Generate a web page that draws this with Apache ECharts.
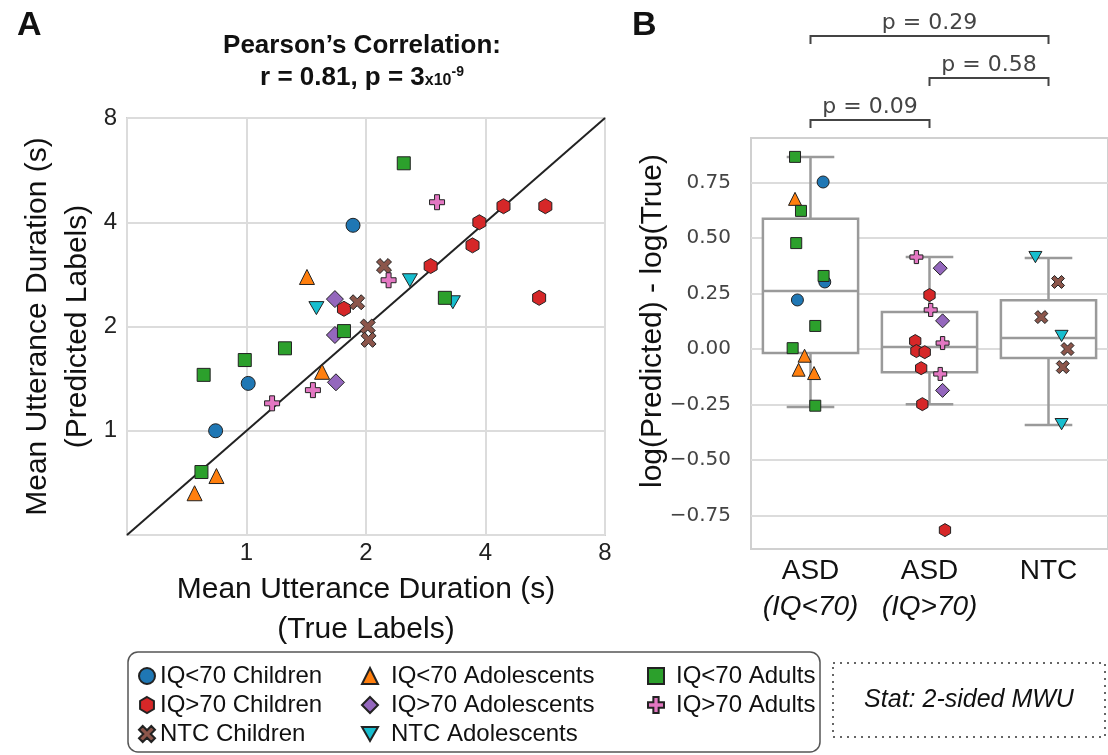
<!DOCTYPE html>
<html>
<head>
<meta charset="utf-8">
<script src="https://cdn.jsdelivr.net/npm/echarts@6/dist/echarts.min.js"></script>
<style>
  html, body { margin: 0; padding: 0; background: #fff; }
  #chart { width: 1108px; height: 755px; }
</style>
</head>
<body>
<div id="chart"></div>
<script>
// 组名（图例顺序）
const groupNames = [
  'IQ<70 Children', 'IQ>70 Children', 'NTC Children',
  'IQ<70 Adolescents', 'IQ>70 Adolescents', 'NTC Adolescents',
  'IQ<70 Adults', 'IQ>70 Adults'
]

// A: [true, predicted] 平均语句时长 (s)
const trueVsPredIQ70Children = [[1.855, 3.92], [1.01, 1.37], [0.836, 1.0]]
const trueVsPredIQ70PlusChildren = [[4.44, 4.45], [5.66, 4.45], [3.86, 4.0], [3.71, 3.43], [2.91, 2.99], [5.46, 2.42], [1.76, 2.25]]
const trueVsPredNTCChildren = [[2.22, 2.99], [1.90, 2.35], [2.02, 2.0], [2.03, 1.83]]
const trueVsPredIQ70Adolescents = [[1.42, 2.78], [1.55, 1.48], [0.84, 0.74], [0.74, 0.66]]
const trueVsPredIQ70PlusAdolescents = [[1.67, 2.4], [1.67, 1.89], [1.68, 1.38]]
const trueVsPredNTCAdolescents = [[1.5, 2.26], [2.58, 2.72], [3.31, 2.35]]
const trueVsPredIQ70Adults = [[2.49, 5.92], [3.16, 2.42], [1.76, 1.94], [1.25, 1.73], [0.99, 1.6], [0.78, 1.45], [0.77, 0.76]]
const trueVsPredIQ70PlusAdults = [[3.02, 4.57], [2.28, 2.72], [1.47, 1.31], [1.16, 1.2]]
const identityLine = [[0.5, 0.5], [8, 8]]

// B: log(Predicted) - log(True)，以及 strip plot 的抖动
const diffIQ70Children = [0.752, 0.302, 0.221]
const jitterIQ70Children = [0.106, 0.12, -0.11]
const diffIQ70Adolescents = [0.676, -0.03, -0.093, -0.108]
const jitterIQ70Adolescents = [-0.13, -0.05, -0.10, 0.03]
const diffIQ70Adults = [0.865, 0.622, 0.477, 0.329, 0.104, 0.004, -0.255]
const jitterIQ70Adults = [-0.13, -0.08, -0.12, 0.11, 0.04, -0.15, 0.04]
const diffIQ70PlusChildren = [0.243, 0.036, -0.009, -0.014, -0.086, -0.248, -0.815]
const jitterIQ70PlusChildren = [0.0, -0.12, -0.11, -0.04, -0.07, -0.06, 0.13]
const diffIQ70PlusAdolescents = [0.364, 0.127, -0.186]
const jitterIQ70PlusAdolescents = [0.09, 0.11, 0.11]
const diffIQ70PlusAdults = [0.414, 0.176, 0.027, -0.112]
const jitterIQ70PlusAdults = [-0.11, 0.01, 0.11, 0.09]
const diffNTCChildren = [0.302, 0.144, 0.0, -0.081]
const jitterNTCChildren = [0.08, -0.06, 0.16, 0.12]
const diffNTCAdolescents = [0.414, 0.059, -0.338]
const jitterNTCAdolescents = [-0.11, 0.11, 0.11]

const boxCategories = ['ASD\n(IQ<70)', 'ASD\n(IQ>70)', 'NTC']
// [min whisker, Q1, median, Q3, max whisker]
const boxStats = [
  [-0.261, -0.018, 0.261, 0.586, 0.865],
  [-0.248, -0.104, 0.009, 0.167, 0.414],
  [-0.342, -0.04, 0.05, 0.22, 0.41]
]
const yTicksB = [-0.75, -0.5, -0.25, 0, 0.25, 0.5, 0.75]
const pvalPairs = [[0, 2], [1, 2], [0, 1]]
const pvalLabels = ['p = 0.29', 'p = 0.58', 'p = 0.09']

// 标记形状
const HEX = 'path://M0,-10L8.66,-5L8.66,5L0,10L-8.66,5L-8.66,-5Z'
const TRI_DOWN = 'path://M-10,-8.66L10,-8.66L0,8.66Z'
const PLUS = 'path://M-3.3,-10H3.3V-3.3H10V3.3H3.3V10H-3.3V3.3H-10V-3.3H-3.3Z'
const CROSS = 'path://M4.95,-9.19L9.19,-4.95L4.24,0L9.19,4.95L4.95,9.19L0,4.24L-4.95,9.19L-9.19,4.95L-4.24,0L-9.19,-4.95L-4.95,-9.19L0,-4.24Z'

const groups = [
  { name: 'IQ<70 Children', color: '#1f77b4', symbol: 'circle', size: 14, a: trueVsPredIQ70Children, cat: 0, diff: diffIQ70Children, jitter: jitterIQ70Children },
  { name: 'IQ>70 Children', color: '#d62728', symbol: HEX, size: 15, a: trueVsPredIQ70PlusChildren, cat: 1, diff: diffIQ70PlusChildren, jitter: jitterIQ70PlusChildren },
  { name: 'NTC Children', color: '#8c564b', symbol: CROSS, size: 15, a: trueVsPredNTCChildren, cat: 2, diff: diffNTCChildren, jitter: jitterNTCChildren },
  { name: 'IQ<70 Adolescents', color: '#ff7f0e', symbol: 'triangle', size: 15, a: trueVsPredIQ70Adolescents, cat: 0, diff: diffIQ70Adolescents, jitter: jitterIQ70Adolescents },
  { name: 'IQ>70 Adolescents', color: '#9467bd', symbol: 'diamond', size: 17, a: trueVsPredIQ70PlusAdolescents, cat: 1, diff: diffIQ70PlusAdolescents, jitter: jitterIQ70PlusAdolescents },
  { name: 'NTC Adolescents', color: '#17becf', symbol: TRI_DOWN, size: 15, a: trueVsPredNTCAdolescents, cat: 2, diff: diffNTCAdolescents, jitter: jitterNTCAdolescents },
  { name: 'IQ<70 Adults', color: '#2ca02c', symbol: 'rect', size: 13, a: trueVsPredIQ70Adults, cat: 0, diff: diffIQ70Adults, jitter: jitterIQ70Adults },
  { name: 'IQ>70 Adults', color: '#e377c2', symbol: PLUS, size: 15, a: trueVsPredIQ70PlusAdults, cat: 1, diff: diffIQ70PlusAdults, jitter: jitterIQ70PlusAdults }
]

const FONT = 'Liberation Sans, Arial, sans-serif'
const MPL_FONT = 'DejaVu Sans, sans-serif'
const GRID_LINE = { color: '#dcdcdc', width: 2 }

const chart = echarts.init(document.getElementById('chart'), null, { renderer: 'canvas' })

function scatterSeries() {
  const list = []
  groups.forEach(g => {
    const itemStyle = { color: g.color, borderColor: '#222', borderWidth: 1, opacity: 1 }
    list.push({
      name: g.name,
      type: 'scatter',
      xAxisIndex: 0,
      yAxisIndex: 0,
      symbol: g.symbol,
      symbolSize: g.size,
      symbolKeepAspect: true,
      itemStyle: itemStyle,
      z: 4,
      data: g.a
    })
    list.push({
      name: g.name,
      type: 'scatter',
      xAxisIndex: 2,
      yAxisIndex: 1,
      symbol: g.symbol,
      symbolSize: Math.round(g.size * 0.85),
      symbolKeepAspect: true,
      itemStyle: itemStyle,
      z: 4,
      data: g.diff.map((v, i) => [g.cat + g.jitter[i], v])
    })
  })
  return list
}

function renderBox(params, api) {
  const x = api.value(0)
  const lo = api.value(1), q1 = api.value(2), med = api.value(3), q3 = api.value(4), hi = api.value(5)
  const p = (xx, yy) => api.coord([xx, yy])
  const stroke = { stroke: '#9a9a9a', lineWidth: 2.5 }
  const line = (a, b) => ({ type: 'line', shape: { x1: a[0], y1: a[1], x2: b[0], y2: b[1] }, style: stroke })
  const tl = p(x - 0.4, q3), br = p(x + 0.4, q1)
  return {
    type: 'group',
    children: [
      line(p(x, q3), p(x, hi)),
      line(p(x, q1), p(x, lo)),
      line(p(x - 0.2, hi), p(x + 0.2, hi)),
      line(p(x - 0.2, lo), p(x + 0.2, lo)),
      { type: 'rect', shape: { x: tl[0], y: tl[1], width: br[0] - tl[0], height: br[1] - tl[1] }, style: { fill: '#fff', stroke: '#9a9a9a', lineWidth: 2.5 } },
      line(p(x - 0.4, med), p(x + 0.4, med))
    ]
  }
}

function legendCol(names, left, textGap) {
  return {
    orient: 'vertical',
    left: left,
    top: 664,
    padding: 0,
    itemGap: 5,
    itemWidth: 16,
    itemHeight: 16,
    selectedMode: false,
    data: names,
    textStyle: { fontFamily: FONT, fontSize: 24, color: '#111', padding: [0, 0, 0, textGap] }
  }
}

const option = {
  animation: false,
  backgroundColor: '#fff',
  title: [
    { text: 'A', left: 12, top: 4, textStyle: { fontFamily: FONT, fontSize: 34, fontWeight: 'bold', color: '#111' } },
    { text: 'B', left: 627, top: 4, textStyle: { fontFamily: FONT, fontSize: 34, fontWeight: 'bold', color: '#111' } }
  ],
  legend: [
    legendCol(['IQ<70 Children', 'IQ>70 Children', 'NTC Children'], 138, 0),
    legendCol(['IQ<70 Adolescents', 'IQ>70 Adolescents', 'NTC Adolescents'], 361, 8),
    legendCol(['IQ<70 Adults', 'IQ>70 Adults'], 647, 7)
  ],
  grid: [
    { left: 127, top: 118, width: 478, height: 417, show: true, borderColor: '#d0d0d0', borderWidth: 2 },
    { left: 751, top: 138, width: 367, height: 411, show: true, borderColor: '#d0d0d0', borderWidth: 2 }
  ],
  xAxis: [
    {
      type: 'log', logBase: 2, min: 0.5, max: 8, gridIndex: 0,
      axisLine: { show: false }, axisTick: { show: false },
      splitLine: { show: true, lineStyle: GRID_LINE },
      axisLabel: { formatter: v => (v < 1 ? '' : String(Math.round(v))), fontFamily: FONT, fontSize: 24, color: '#222', margin: 6 },
      name: 'Mean Utterance Duration (s)\n(True Labels)',
      nameLocation: 'middle', nameGap: 29,
      nameTextStyle: { fontFamily: FONT, fontSize: 30, lineHeight: 40, color: '#111' }
    },
    {
      type: 'category', gridIndex: 1, data: boxCategories,
      axisLine: { show: false }, axisTick: { show: false }, splitLine: { show: false },
      axisLabel: {
        margin: 4,
        formatter: v => {
          const parts = v.split('\n')
          return parts.length > 1 ? '{n|' + parts[0] + '}\n{i|' + parts[1] + '}' : '{n|' + parts[0] + '}'
        },
        rich: {
          n: { fontFamily: FONT, fontSize: 28, color: '#111', lineHeight: 36 },
          i: { fontFamily: FONT, fontSize: 28, fontStyle: 'italic', color: '#111', lineHeight: 36 }
        }
      }
    },
    { type: 'value', gridIndex: 1, min: -0.5, max: 2.5, show: false }
  ],
  yAxis: [
    {
      type: 'log', logBase: 2, min: 0.5, max: 8, gridIndex: 0,
      axisLine: { show: false }, axisTick: { show: false },
      splitLine: { show: true, lineStyle: GRID_LINE },
      axisLabel: { formatter: v => (v < 1 ? '' : String(Math.round(v))), fontFamily: FONT, fontSize: 24, color: '#222', margin: 10 },
      name: 'Mean Utterance Duration (s)\n(Predicted Labels)',
      nameLocation: 'middle', nameGap: 29,
      nameTextStyle: { fontFamily: FONT, fontSize: 30, lineHeight: 40, color: '#111' }
    },
    {
      type: 'value', gridIndex: 1, min: -0.9, max: 0.95,
      axisLine: { show: false },
      axisTick: { show: false, customValues: yTicksB },
      splitLine: { show: true, lineStyle: GRID_LINE },
      axisLabel: {
        customValues: yTicksB,
        formatter: v => (v < 0 ? '\u2212' : '') + Math.abs(v).toFixed(2),
        fontFamily: MPL_FONT, fontSize: 20, color: '#444', margin: 20
      }
    }
  ],
  series: [
    {
      type: 'line', xAxisIndex: 0, yAxisIndex: 0, data: identityLine,
      showSymbol: false, silent: true, z: 3,
      lineStyle: { color: '#222', width: 2 }
    },
    {
      type: 'custom', xAxisIndex: 2, yAxisIndex: 1, z: 2,
      renderItem: renderBox,
      data: boxStats.map((s, i) => [i].concat(s))
    }
  ].concat(scatterSeries()),
  graphic: [
    {
      type: 'text', x: 362, y: 62, z: 10,
      style: {
        text: '{b|Pearson\u2019s Correlation:}\n{b|r = 0.81, p = 3}{s|x10}{e|-9}',
        align: 'center', verticalAlign: 'middle', fill: '#111',
        rich: {
          b: { fontFamily: FONT, fontSize: 26, fontWeight: 'bold', lineHeight: 32 },
          s: { fontFamily: FONT, fontSize: 16, fontWeight: 'bold', verticalAlign: 'bottom', padding: [0, 0, 5, 0] },
          e: { fontFamily: FONT, fontSize: 14, fontWeight: 'bold', verticalAlign: 'top', padding: [3, 0, 0, 0] }
        }
      }
    },
    {
      type: 'text', x: 653, y: 321, rotation: Math.PI / 2,
      style: { text: 'log(Predicted) - log(True)', align: 'center', verticalAlign: 'middle', fill: '#111', font: '30px ' + FONT }
    },
    {
      type: 'rect', shape: { x: 128, y: 652, width: 692, height: 100, r: 10 },
      style: { fill: 'none', stroke: '#555', lineWidth: 1.5 }
    },
    {
      type: 'rect', shape: { x: 833, y: 663, width: 272, height: 74 },
      style: { fill: 'none', stroke: '#333', lineWidth: 1.5, lineDash: [2, 5] }
    },
    {
      type: 'text', x: 969, y: 700,
      style: { text: 'Stat: 2-sided MWU', align: 'center', verticalAlign: 'middle', fill: '#111', font: 'italic 25px ' + FONT }
    }
  ]
}

chart.setOption(option)

// 显著性括号（x 取自 B 的数轴）
const bracketRows = [36, 78, 120]
const brackets = []
pvalPairs.forEach((pair, k) => {
  const x1 = chart.convertToPixel({ xAxisIndex: 2 }, pair[0])
  const x2 = chart.convertToPixel({ xAxisIndex: 2 }, pair[1])
  const y = bracketRows[k]
  brackets.push({
    type: 'polyline',
    shape: { points: [[x1, y + 8], [x1, y], [x2, y], [x2, y + 8]] },
    style: { fill: 'none', stroke: '#444', lineWidth: 2 }
  })
  brackets.push({
    type: 'text', x: (x1 + x2) / 2, y: y - 2,
    style: { text: pvalLabels[k], align: 'center', verticalAlign: 'bottom', fill: '#444', font: '22px ' + MPL_FONT }
  })
})
chart.setOption({ graphic: option.graphic.concat(brackets) })
</script>
</body>
</html>
